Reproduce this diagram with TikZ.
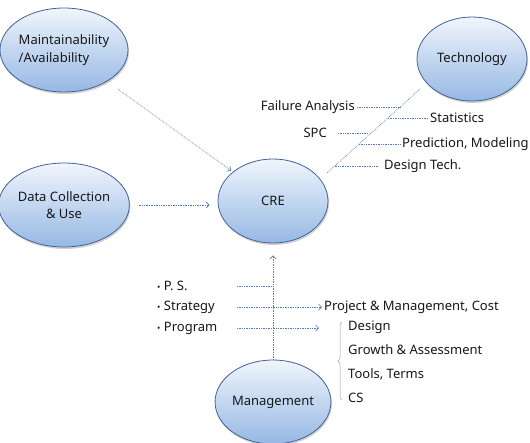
\documentclass[tikz,border=0pt]{standalone}
\usepackage{fontspec}
\setmainfont{Noto Sans}
\usetikzlibrary{arrows.meta,positioning,shapes.geometric,shadows,decorations.pathreplacing}
\definecolor{crefill}{RGB}{150,184,228}
\definecolor{cretop}{RGB}{240,245,252}
\definecolor{creedge}{RGB}{66,98,150}
\definecolor{crelink}{RGB}{86,122,190}
\definecolor{cretext}{RGB}{24,24,24}

\begin{document}
\begin{tikzpicture}[x=1pt, y=-1pt,
  bubble/.style={ellipse, draw=creedge, line width=0.8pt, top color=cretop, bottom color=crefill,
    minimum width=110pt, minimum height=84pt, inner sep=0pt, align=center,
    font=\fontsize{13}{17.5}\selectfont, text=cretext,
    drop shadow={opacity=0.35, shadow xshift=1pt, shadow yshift=-2pt}},
  word/.style={font=\fontsize{13}{15}\selectfont, text=cretext, inner sep=2pt},
  link/.style={crelink, densely dotted, line width=0.7pt},
  arr/.style={link, -{Straight Barb[length=3pt,width=6pt]}}]
\fill[white] (0,0) rectangle (530,442);
\useasboundingbox (0,0) rectangle (530,442);
% Main bubbles
\node[bubble, align=left] (maint) at (64,50) {Maintainability\\/Availability};
\node[bubble] (tech) at (472,59) {Technology};
\node[bubble] (data) at (64,205) {Data Collection\\\& Use};
\node[bubble] (cre) at (273,201) {\raisebox{-5pt}{CRE}};
\node[bubble] (mgmt) at (273,402) {\raisebox{-5pt}{Management}};
% Inputs to CRE
\draw[arr, shorten <=13pt, shorten >=2pt] (maint) -- (cre);
\draw[arr, shorten <=9pt, shorten >=8pt] (data.east) -- (data.east -| cre.west);
\draw[arr, shorten >=12pt] (mgmt.north) -- (cre.south);
% Technology branches
\coordinate (tA) at (420,89);
\coordinate (tB) at (327,173);
\draw[link] (tA) -- (tB);
\path (tA) -- (tB) coordinate[pos=0.214] (b1) coordinate[pos=0.345] (b2)
  coordinate[pos=0.524] (b3) coordinate[pos=0.655] (b4) coordinate[pos=0.917] (b5);
\node[word, anchor=east] (fail) at (b1 -| 357,0) {Failure Analysis};
\node[word, anchor=west] (stat) at (b2 -| 428,0) {Statistics};
\node[word, anchor=east] (spc) at (b3 -| 329,0) {SPC};
\node[word, anchor=west] (pred) at (b4 -| 400,0) {Prediction, Modeling};
\node[word, anchor=west] (dtech) at (b5 -| 382,0) {Design Tech.};
\draw[link] (fail.east) -- (b1);
\draw[link] (b2) -- (stat.west);
\draw[link, shorten <=9pt, shorten >=3pt] (spc.east) -- (b3);
\draw[link] (b4) -- (pred.west);
\draw[link, shorten >=4pt] (b5) -- (dtech.west);
% Management items
\newcommand\bul{{\fontsize{9}{9}\selectfont•}\ }
\node[word, anchor=west] (ps) at (155,286) {\bul P. S.};
\node[word, anchor=west] (strat) at (155,307) {\bul Strategy};
\node[word, anchor=west] (prog) at (155,328) {\bul Program};
\coordinate (ps-in) at (237,286);
\coordinate (st-in) at (237,307);
\coordinate (pr-in) at (237,328);
\node[word, anchor=west] (pmc) at (322,307) {Project \& Management, Cost};
\node[word, anchor=west] (design) at (346,327) {Design};
\node[word, anchor=west] (growth) at (346,350) {Growth \& Assessment};
\node[word, anchor=west] (tools) at (346,374) {Tools, Terms};
\node[word, anchor=west] (cs) at (346,398) {CS};
\draw[link] (ps-in) -- (ps-in -| mgmt.north);
\draw[arr] (st-in) -- (pmc.west);
\draw[arr, shorten >=27pt] (pr-in) -- (pr-in -| design.west);
\draw[gray!70, line width=0.5pt, decorate, decoration={brace, amplitude=4pt, aspect=0.5}]
  (342,400) -- (342,322);
\end{tikzpicture}
\end{document}
